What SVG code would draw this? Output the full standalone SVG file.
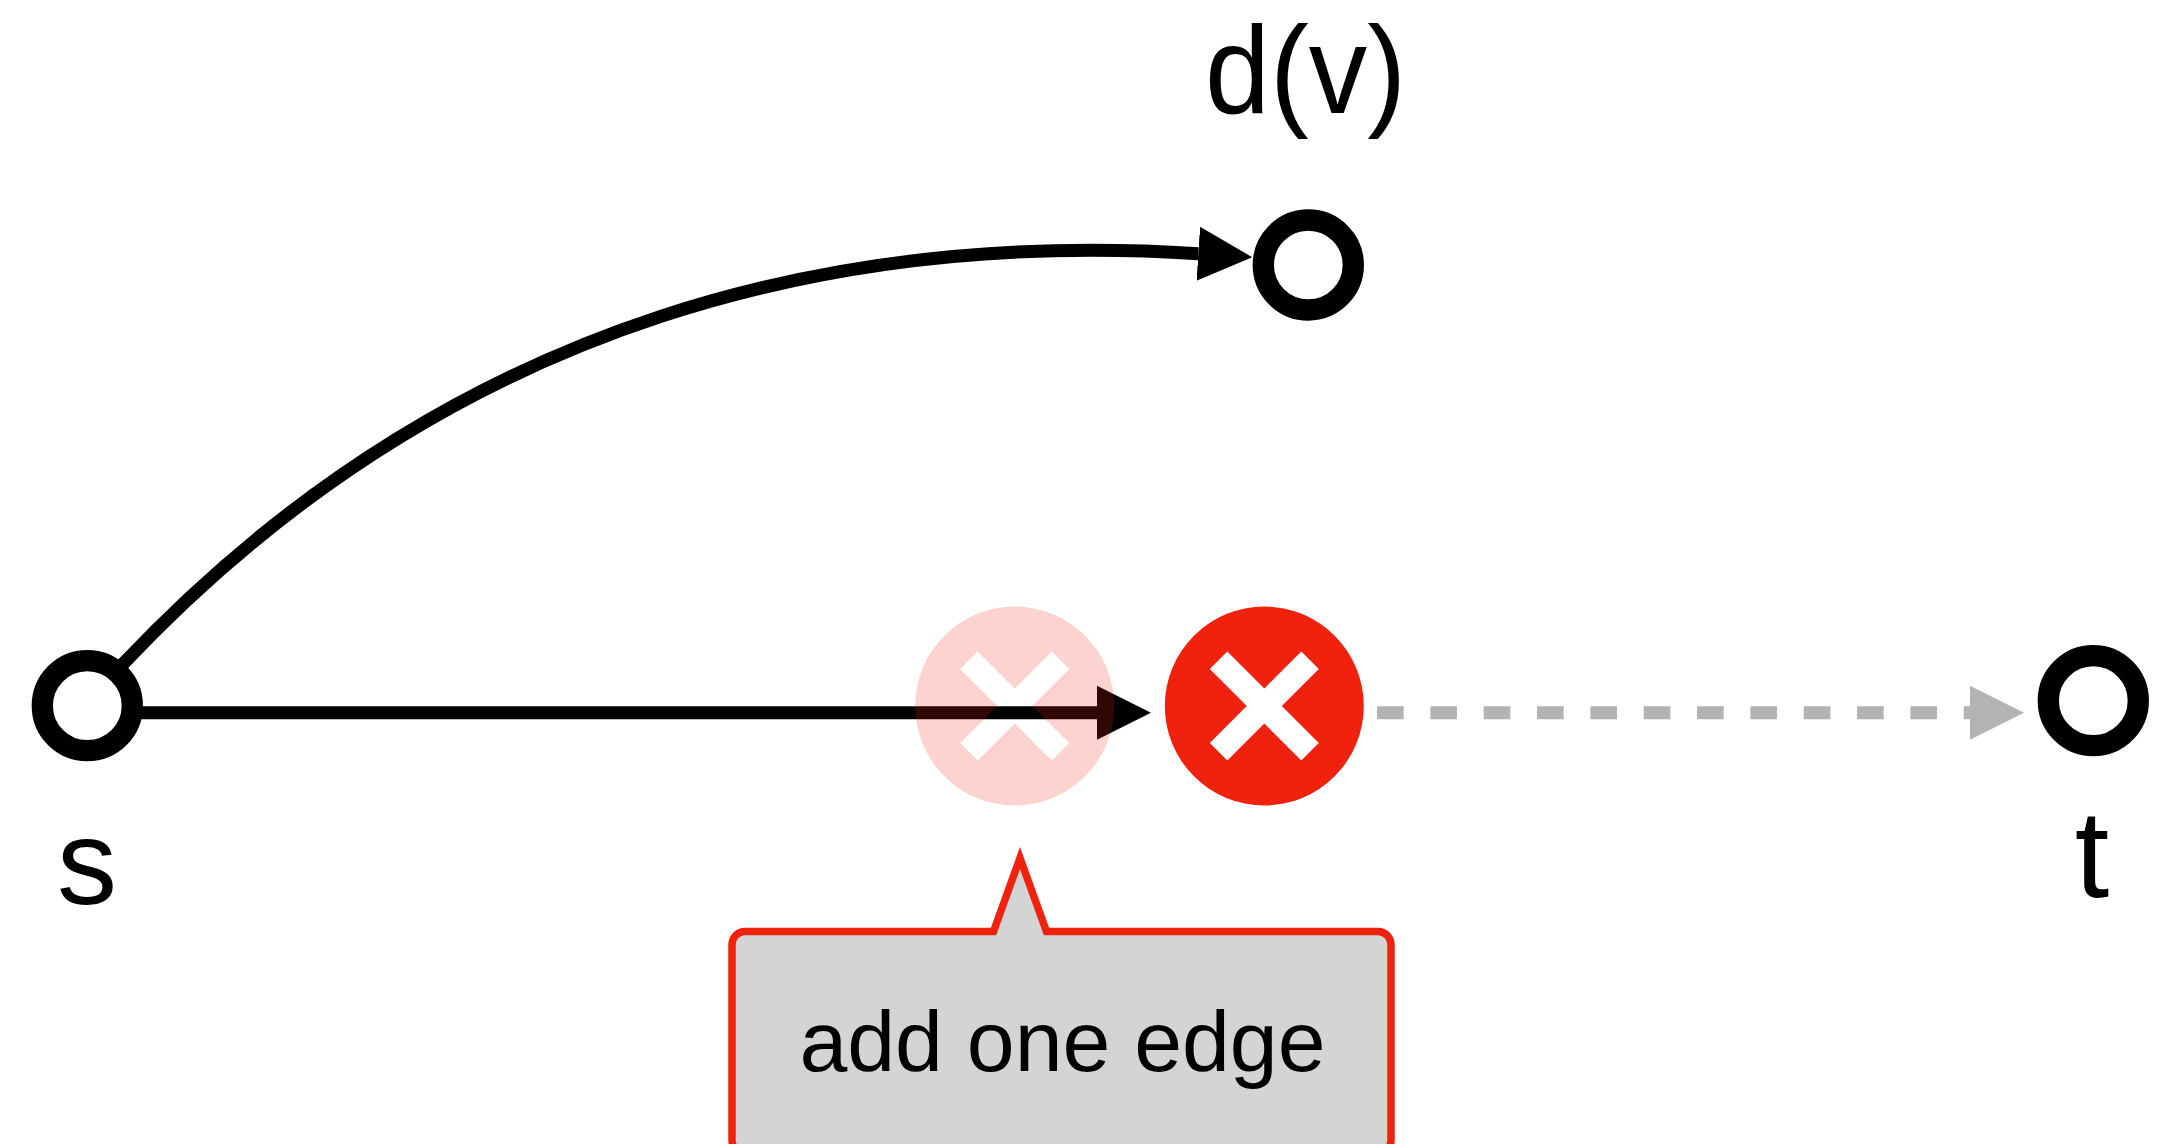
<svg xmlns="http://www.w3.org/2000/svg" width="2176" height="1144" viewBox="0 0 2176 1144">
<style>
.node{fill:#fff;stroke:#000;stroke-width:21.3}
.lbl{font-family:"Liberation Sans",Arial,sans-serif;fill:#000;text-anchor:middle}
.edge{fill:none;stroke:#000;stroke-width:13}
</style>
<defs>
<marker id="ah" markerUnits="userSpaceOnUse" markerWidth="60" markerHeight="60" viewBox="0 -30 60 60" refX="0" refY="0" orient="auto"><path d="M0-27L54 0L0 27Z" fill="#000"/></marker>
<marker id="ag" markerUnits="userSpaceOnUse" markerWidth="60" markerHeight="60" viewBox="0 -30 60 60" refX="0" refY="0" orient="auto"><path d="M0-27L54 0L0 27Z" fill="#b3b3b3"/></marker>
<path id="xmark" fill-rule="evenodd" d="M-99.5 0A99.5 99.5 0 1 1 99.5 0A99.5 99.5 0 1 1-99.5 0ZM-37-54.5L-54.5-37L-17.5 0L-54.5 37L-37 54.5L0 17.5L37 54.5L54.5 37L17.5 0L54.5-37L37-54.5L0-17.5Z"/>
</defs>
<g id="connectors">
<path class="edge" marker-end="url(#ah)" d="M122 665C460 306 860 232 1198.300 253.700"/>
<path class="edge" marker-end="url(#ah)" d="M140 712.700H1097"/>
<path class="edge" style="stroke:#b3b3b3;stroke-dasharray:26.67 26.67" marker-end="url(#ag)" d="M1377 712.700H1970"/>
</g>
<g id="node-s"><circle class="node" cx="87.300" cy="705.700" r="45"/><text class="lbl" x="87" y="904" font-size="120">s</text></g>
<g id="node-dv"><circle class="node" cx="1308.300" cy="265" r="45"/><text class="lbl" x="1305.500" y="113" font-size="125" textLength="201" lengthAdjust="spacingAndGlyphs">d(v)</text></g>
<g id="node-t"><circle class="node" cx="2093.300" cy="700.700" r="45"/><text class="lbl" x="2092" y="897" font-size="124">t</text></g>
<g id="node-removed-ghost"><use href="#xmark" x="1014.700" y="706" fill="#f0220d" opacity="0.2"/></g>
<g id="node-removed"><use href="#xmark" x="1264.300" y="706" fill="#f0220d"/></g>
<g id="callout">
<path d="M745 931.500H993.500L1020 858L1046.500 931.500H1378A13 13 0 0 1 1391 944.500V1140A13 13 0 0 1 1378 1153H745A13 13 0 0 1 732 1140V944.500A13 13 0 0 1 745 931.500Z" fill="#d4d4d4" stroke="#f0220d" stroke-width="7.500"/>
<text class="lbl" x="1062.500" y="1071" font-size="86">add one edge</text>
</g>
</svg>
